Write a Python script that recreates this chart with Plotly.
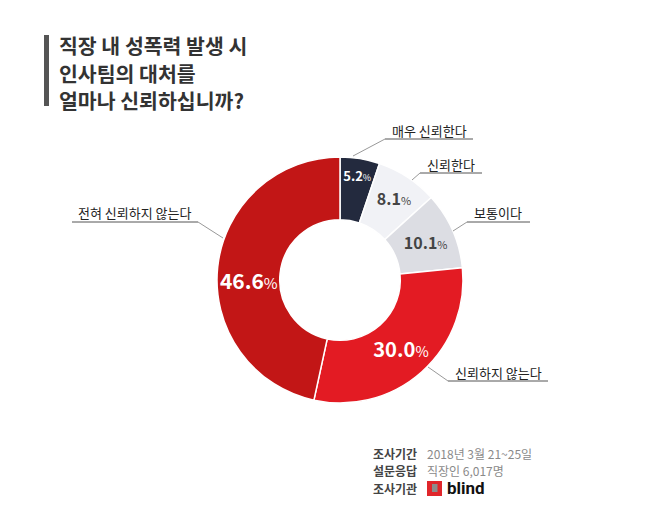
import plotly.graph_objects as go

labels = ["매우 신뢰한다", "신뢰한다", "보통이다", "신뢰하지 않는다", "전혀 신뢰하지 않는다"]
values = [5.2, 8.1, 10.1, 30.0, 46.6]
colors = ["#232a3e", "#f1f2f6", "#dcdde3", "#e31b23", "#c21616"]
text_colors = ["#ffffff", "#444444", "#444444", "#ffffff", "#ffffff"]
num_sizes = [13, 16, 16, 21, 21]
title_lines = ["직장 내 성폭력 발생 시", "인사팀의 대처를", "얼마나 신뢰하십니까?"]
footer_keys = ["조사기간", "설문응답", "조사기관"]
footer_vals = ["2018년 3월 21~25일", "직장인 6,017명", ""]

FONT = "Noto Sans CJK KR"
OFF = 8  # browser body margin
W, H = 670 - OFF, 516 - OFF


def px(x):
    return (x - OFF) / W


def py(y):
    return 1 - (y - OFF) / H


texts = []
for v, s in zip(values, num_sizes):
    texts.append(f"<b>{v:.1f}</b><span style='font-size:{int(s*0.72)}px'>%</span>")

fig = go.Figure(go.Pie(
    labels=labels, values=values, sort=False, direction="clockwise", rotation=0,
    hole=0.49,
    marker=dict(colors=colors, line=dict(color="#ffffff", width=1.5)),
    text=texts, texttemplate="%{text}", textposition="inside",
    insidetextorientation="horizontal",
    textfont=dict(family=FONT, color=text_colors, size=num_sizes),
    domain=dict(x=[px(217), px(463)], y=[py(403), py(157)]),
    showlegend=False, hoverinfo="label+value",
))

shapes = []
annotations = []

# title bar
shapes.append(dict(type="rect", xref="paper", yref="paper", x0=px(44), x1=px(49), y0=py(106), y1=py(35),
                   fillcolor="#555555", line=dict(width=0)))
for i, t in enumerate(title_lines):
    annotations.append(dict(text=f"<b>{t}</b>", x=px(57), y=py(45 + i * 27.5), xref="paper", yref="paper",
                            xanchor="left", yanchor="middle", showarrow=False,
                            font=dict(family=FONT, size=20.5, color="#333333")))

# outer labels with leader lines: (text center x, text y, underline x0, x1, y, diag end x, y)
label_pos = [
    (429, 130, 385, 473, 139, 353, 156),
    (451, 164, 420, 482, 173, 412, 180),
    (498, 213, 467, 530, 222, 453, 231),
    (498, 372, 448, 548, 381, 428, 367),
    (135, 213, 72, 198, 222, 223, 238),
]
for lab, (tx, ty, ux0, ux1, uy, dx, dy) in zip(labels, label_pos):
    annotations.append(dict(text=lab, x=px(tx), y=py(ty), xref="paper", yref="paper",
                            xanchor="center", yanchor="middle", showarrow=False,
                            font=dict(family=FONT, size=13, color="#222222")))
    shapes.append(dict(type="line", xref="paper", yref="paper", x0=px(ux0), x1=px(ux1), y0=py(uy), y1=py(uy),
                       line=dict(color="#555555", width=1)))
    sx = ux0 if dx < ux0 else ux1
    shapes.append(dict(type="line", xref="paper", yref="paper", x0=px(sx), x1=px(dx), y0=py(uy), y1=py(dy),
                       line=dict(color="#999999", width=1)))

# footer
for i, (k, v) in enumerate(zip(footer_keys, footer_vals)):
    yy = 453 + i * 17.5
    annotations.append(dict(text=f"<b>{k}</b>", x=px(371), y=py(yy), xref="paper", yref="paper",
                            xanchor="left", yanchor="middle", showarrow=False,
                            font=dict(family=FONT, size=12, color="#444444")))
    if v:
        annotations.append(dict(text=v, x=px(425), y=py(yy), xref="paper", yref="paper",
                                xanchor="left", yanchor="middle", showarrow=False,
                                font=dict(family=FONT, size=12, color="#8a8a8a")))

# blind logo
shapes.append(dict(type="rect", xref="paper", yref="paper", x0=px(427), x1=px(442), y0=py(496), y1=py(481),
                   fillcolor="#e0262b", line=dict(width=0)))
shapes.append(dict(type="rect", xref="paper", yref="paper", x0=px(432), x1=px(437.5), y0=py(492), y1=py(484),
                   fillcolor="#8c8c8c", line=dict(width=0)))
annotations.append(dict(text="<b>blind</b>", x=px(445), y=py(488), xref="paper", yref="paper",
                        xanchor="left", yanchor="middle", showarrow=False,
                        font=dict(family="Roboto", size=17, color="#111111")))

fig.update_layout(
    width=W, height=H, margin=dict(l=0, r=0, t=0, b=0),
    paper_bgcolor="#ffffff", plot_bgcolor="#ffffff",
    shapes=shapes, annotations=annotations,
)

fig.write_html("out.html")
